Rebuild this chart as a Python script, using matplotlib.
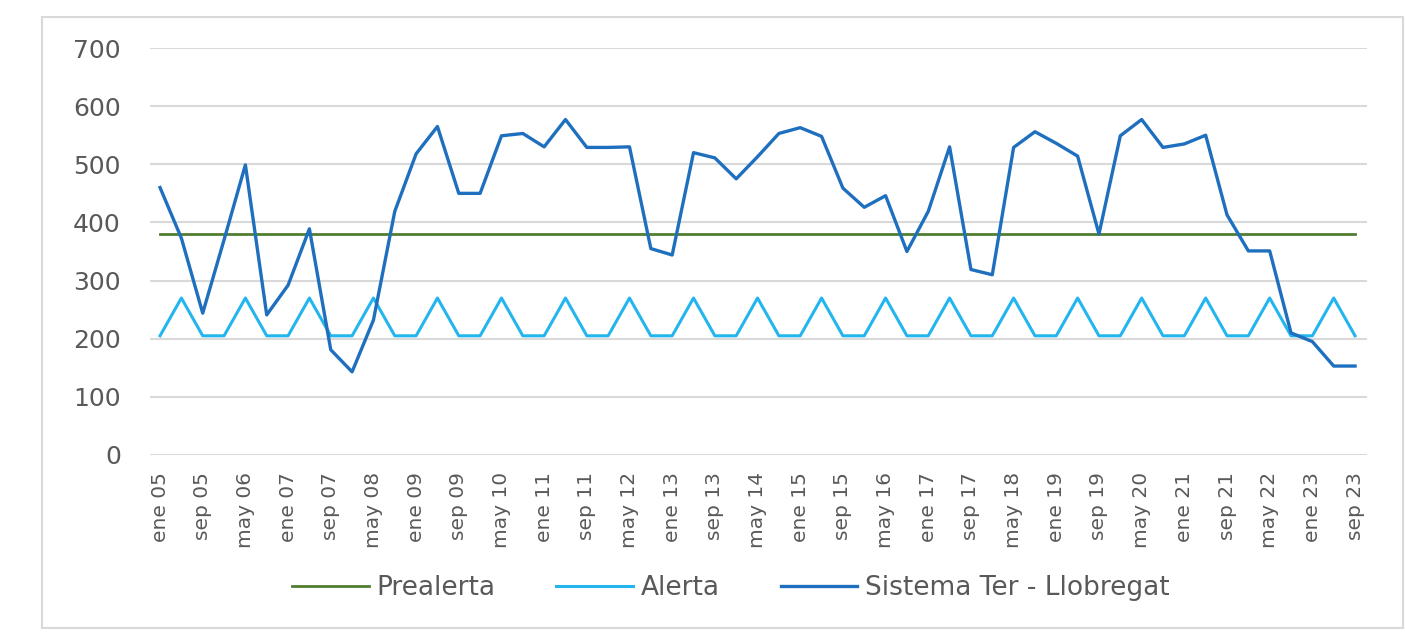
import matplotlib.pyplot as plt
from matplotlib.patches import Rectangle

# valores (cada 4 meses: ene, may, sep)
sistema = [460, 373, 244, 370, 499, 241, 292, 389, 181, 143,
           232, 419, 518, 565, 450, 450, 549, 553, 530, 577,
           529, 529, 530, 355, 344, 520, 511, 475, 513, 553,
           563, 548, 459, 426, 446, 350, 419, 530, 319, 310,
           529, 556, 536, 514, 380, 549, 577, 529, 535, 550,
           413, 351, 351, 210, 195, 153, 153]
alerta = [205, 270, 205] * 19
prealerta = [380] * 57

etiquetas = ["ene 05", "sep 05", "may 06", "ene 07", "sep 07", "may 08", "ene 09",
             "sep 09", "may 10", "ene 11", "sep 11", "may 12", "ene 13", "sep 13",
             "may 14", "ene 15", "sep 15", "may 16", "ene 17", "sep 17", "may 18",
             "ene 19", "sep 19", "may 20", "ene 21", "sep 21", "may 22", "ene 23",
             "sep 23"]

x = list(range(len(sistema)))
gris = "#595959"

fig = plt.figure(figsize=(14.05, 6.4), dpi=100)
ax = fig.add_axes([150 / 1405, 1 - 455 / 640, (1367 - 150) / 1405, (455 - 48) / 640])

ax.plot(x, prealerta, color="#4f7f2f", lw=2.0, label="Prealerta")
ax.plot(x, alerta, color="#22b5ee", lw=2.2, label="Alerta")
ax.plot(x, sistema, color="#1f6fbf", lw=2.4, label="Sistema Ter - Llobregat")

ax.set_ylim(0, 700)
ax.set_xlim(-0.47, 56.56)
ax.set_yticks(range(0, 701, 100))
ax.set_xticks(x[::2])
ax.set_xticklabels(etiquetas, rotation=90, fontsize=14.5, color=gris)
ax.tick_params(axis="y", length=0, pad=21, labelsize=18, labelcolor=gris)
ax.tick_params(axis="x", length=0, pad=12)
ax.grid(axis="y", color="#d9d9d9", lw=1.5)
ax.set_axisbelow(True)
for s in ax.spines.values():
    s.set_visible(False)

fig.legend(loc="center", bbox_to_anchor=(731 / 1405, 1 - 588 / 640), ncol=3,
           frameon=False, fontsize=19, labelcolor=gris, handlelength=2.9,
           handletextpad=0.3, columnspacing=2.3)

fig.patches.append(Rectangle((42 / 1405, 1 - 628 / 640), (1403 - 42) / 1405, (628 - 17) / 640,
                             transform=fig.transFigure, fill=False,
                             edgecolor="#d9d9d9", lw=1.5))

fig.savefig("out.png", dpi=100)
